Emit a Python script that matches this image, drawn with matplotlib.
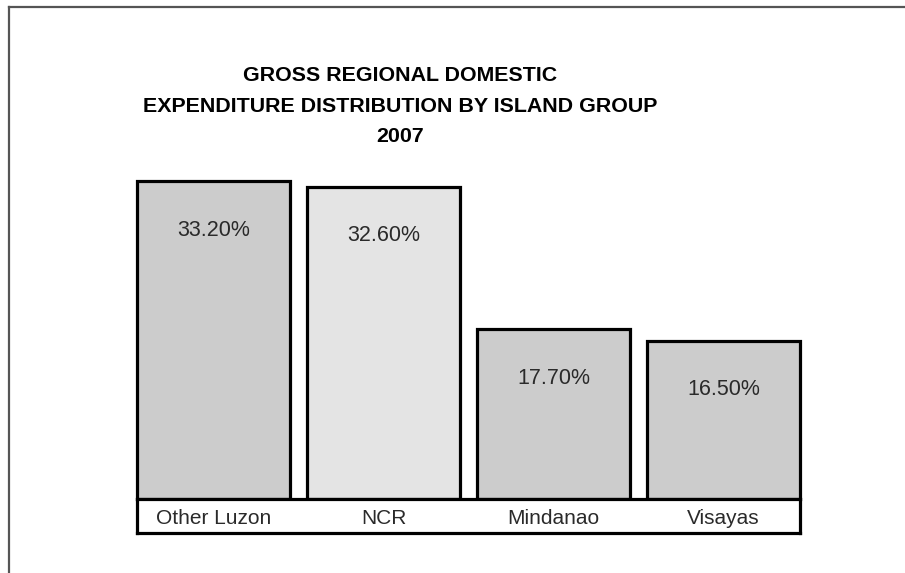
import matplotlib
matplotlib.use("Agg")
import matplotlib.pyplot as plt
from matplotlib.lines import Line2D

categories = ["Other Luzon", "NCR", "Mindanao", "Visayas"]
values = [33.2, 32.6, 17.7, 16.5]
value_labels = ["33.20%", "32.60%", "17.70%", "16.50%"]
colors = ["#cccccc", "#e4e4e4", "#cccccc", "#cccccc"]
title = "GROSS REGIONAL DOMESTIC\nEXPENDITURE DISTRIBUTION BY ISLAND GROUP\n2007"

plt.rcParams['font.family'] = ['Liberation Sans', 'DejaVu Sans']

W, H = 905, 573
fig = plt.figure(figsize=(W / 100, H / 100), dpi=100)
fig.patch.set_facecolor("white")

# figure frame (top and left)
fig.add_artist(Line2D([9 / W, 9 / W], [0, 1 - 7 / H], transform=fig.transFigure,
                      color="#555555", lw=1.6))
fig.add_artist(Line2D([9 / W, 1], [1 - 7 / H, 1 - 7 / H], transform=fig.transFigure,
                      color="#555555", lw=1.6))

left = 137 / W
width = 663 / W
bottom = (H - 499) / H
top_px = 181
ax = fig.add_axes([left, bottom, width, (499 - top_px) / H])
ax.set_xlim(-0.45, len(categories) - 0.55)
ax.set_ylim(0, max(values))
bars = ax.bar(range(len(categories)), values, width=0.9, color=colors,
              edgecolor="black", linewidth=2.3, clip_on=False)
for i, (v, lab) in enumerate(zip(values, value_labels)):
    ax.annotate(lab, (i, v), xytext=(0, -49), textcoords="offset pixels",
                ha="center", va="center", fontsize=15.5, color="#2a2a2a")
ax.axis("off")

# category strip
sx = fig.add_axes([left, (H - 533) / H, width, 34 / H])
sx.set_xlim(ax.get_xlim())
sx.set_ylim(0, 1)
sx.set_xticks([])
sx.set_yticks([])
for s in sx.spines.values():
    s.set_linewidth(2.3)
    s.set_color("black")
for i, c in enumerate(categories):
    sx.text(i, 0.42, c, ha="center", va="center", fontsize=15, color="#2a2a2a")

fig.text(400 / W, 1 - 106 / H, title, ha="center", va="center",
         fontsize=15.4, fontweight="bold", linespacing=1.76, color="black")

fig.savefig("out.png", dpi=100, facecolor="white")
